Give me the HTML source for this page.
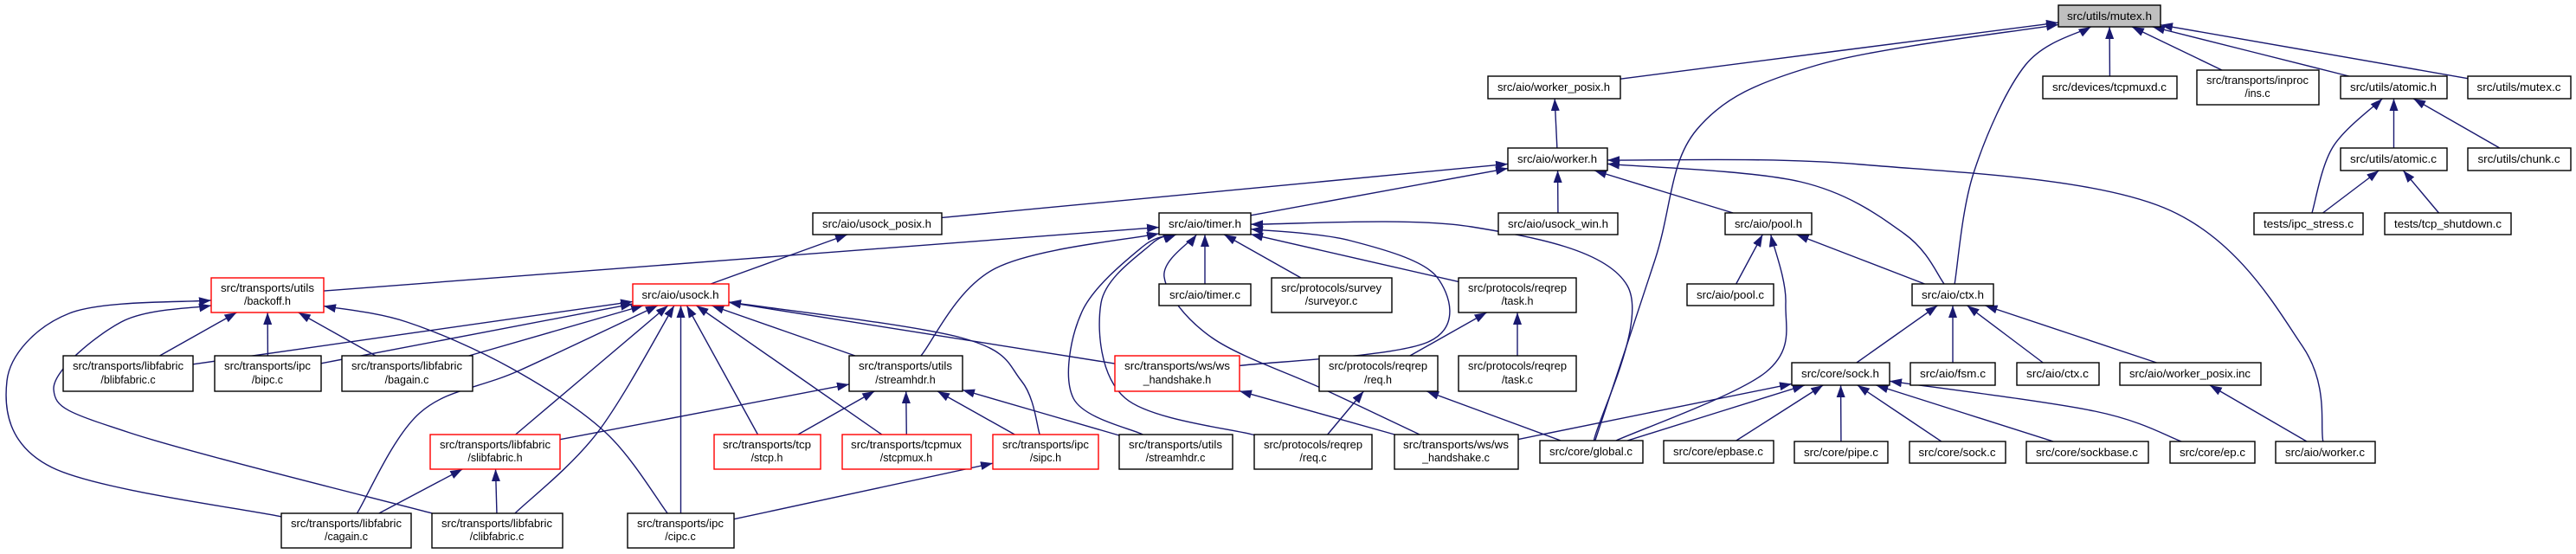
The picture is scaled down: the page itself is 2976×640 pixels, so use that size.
<!DOCTYPE html>
<html><head><meta charset="utf-8"><style>
html,body{margin:0;padding:0;background:#fff;}
svg{display:block;}
text{font-family:"Liberation Sans",sans-serif;font-size:12.5px;fill:#000;}
rect{stroke-width:1.4;}
</style></head><body>
<svg id="g" width="2976" height="640" viewBox="0 0 2976 640" xmlns="http://www.w3.org/2000/svg">
<defs><marker id="ah" markerUnits="userSpaceOnUse" markerWidth="16" markerHeight="12" refX="14" refY="5" orient="auto"><path d="M0,0 L14,5 L0,10 z" fill="#191970"/></marker></defs>
<g id="edges" fill="none" stroke="#191970" stroke-width="1.4"></g>
<g id="nodes">
<rect id="mutex" x="2378" y="6" width="118" height="25" fill="#bfbfbf" stroke="#000"/><text x="2437" y="23" text-anchor="middle" textLength="98" lengthAdjust="spacingAndGlyphs">src/utils/mutex.h</text>
<rect id="tcpmuxd" x="2360" y="88" width="155" height="26" fill="#fff" stroke="#000"/><text x="2437" y="105" text-anchor="middle" textLength="132" lengthAdjust="spacingAndGlyphs">src/devices/tcpmuxd.c</text>
<rect id="ins" x="2538" y="81" width="141" height="40" fill="#fff" stroke="#000"/><text x="2608" y="97" text-anchor="middle" textLength="118" lengthAdjust="spacingAndGlyphs">src/transports/inproc</text><text x="2608" y="112" text-anchor="middle">/ins.c</text>
<rect id="atomich" x="2704" y="88" width="123" height="26" fill="#fff" stroke="#000"/><text x="2765" y="105" text-anchor="middle" textLength="100" lengthAdjust="spacingAndGlyphs">src/utils/atomic.h</text>
<rect id="mutexc" x="2851" y="88" width="119" height="26" fill="#fff" stroke="#000"/><text x="2910" y="105" text-anchor="middle" textLength="97" lengthAdjust="spacingAndGlyphs">src/utils/mutex.c</text>
<rect id="atomicc" x="2704" y="171" width="123" height="26" fill="#fff" stroke="#000"/><text x="2765" y="188" text-anchor="middle" textLength="100" lengthAdjust="spacingAndGlyphs">src/utils/atomic.c</text>
<rect id="chunk" x="2851" y="171" width="119" height="26" fill="#fff" stroke="#000"/><text x="2910" y="188" text-anchor="middle" textLength="95" lengthAdjust="spacingAndGlyphs">src/utils/chunk.c</text>
<rect id="ipcstress" x="2604" y="246" width="126" height="25" fill="#fff" stroke="#000"/><text x="2667" y="263" text-anchor="middle" textLength="104" lengthAdjust="spacingAndGlyphs">tests/ipc_stress.c</text>
<rect id="tcpshut" x="2755" y="246" width="146" height="25" fill="#fff" stroke="#000"/><text x="2828" y="263" text-anchor="middle" textLength="124" lengthAdjust="spacingAndGlyphs">tests/tcp_shutdown.c</text>
<rect id="poolh" x="1993" y="246" width="100" height="25" fill="#fff" stroke="#000"/><text x="2043" y="263" text-anchor="middle" textLength="78" lengthAdjust="spacingAndGlyphs">src/aio/pool.h</text>
<rect id="wposixh" x="1719" y="88" width="153" height="26" fill="#fff" stroke="#000"/><text x="1795" y="105" text-anchor="middle" textLength="130" lengthAdjust="spacingAndGlyphs">src/aio/worker_posix.h</text>
<rect id="workerh" x="1742" y="171" width="115" height="26" fill="#fff" stroke="#000"/><text x="1799" y="188" text-anchor="middle" textLength="92" lengthAdjust="spacingAndGlyphs">src/aio/worker.h</text>
<rect id="timerh" x="1339" y="246" width="106" height="25" fill="#fff" stroke="#000"/><text x="1392" y="263" text-anchor="middle" textLength="84" lengthAdjust="spacingAndGlyphs">src/aio/timer.h</text>
<rect id="usockwin" x="1731" y="246" width="138" height="25" fill="#fff" stroke="#000"/><text x="1800" y="263" text-anchor="middle" textLength="116" lengthAdjust="spacingAndGlyphs">src/aio/usock_win.h</text>
<rect id="usockposix" x="939" y="246" width="149" height="25" fill="#fff" stroke="#000"/><text x="1013" y="263" text-anchor="middle" textLength="126" lengthAdjust="spacingAndGlyphs">src/aio/usock_posix.h</text>
<rect id="backoff" x="244" y="321" width="130" height="40" fill="#fff" stroke="#f00"/><text x="309" y="337" text-anchor="middle" textLength="108" lengthAdjust="spacingAndGlyphs">src/transports/utils</text><text x="309" y="352" text-anchor="middle">/backoff.h</text>
<rect id="usockh" x="731" y="328" width="111" height="25" fill="#fff" stroke="#f00"/><text x="786" y="345" text-anchor="middle" textLength="89" lengthAdjust="spacingAndGlyphs">src/aio/usock.h</text>
<rect id="blib" x="73" y="411" width="150" height="41" fill="#fff" stroke="#000"/><text x="148" y="427" text-anchor="middle" textLength="128" lengthAdjust="spacingAndGlyphs">src/transports/libfabric</text><text x="148" y="443" text-anchor="middle">/blibfabric.c</text>
<rect id="bipc" x="248" y="411" width="123" height="41" fill="#fff" stroke="#000"/><text x="309" y="427" text-anchor="middle" textLength="100" lengthAdjust="spacingAndGlyphs">src/transports/ipc</text><text x="309" y="443" text-anchor="middle">/bipc.c</text>
<rect id="bagain" x="395" y="411" width="151" height="41" fill="#fff" stroke="#000"/><text x="470" y="427" text-anchor="middle" textLength="128" lengthAdjust="spacingAndGlyphs">src/transports/libfabric</text><text x="470" y="443" text-anchor="middle">/bagain.c</text>
<rect id="slib" x="497" y="502" width="150" height="40" fill="#fff" stroke="#f00"/><text x="572" y="518" text-anchor="middle" textLength="128" lengthAdjust="spacingAndGlyphs">src/transports/libfabric</text><text x="572" y="533" text-anchor="middle">/slibfabric.h</text>
<rect id="stcp" x="825" y="502" width="123" height="40" fill="#fff" stroke="#f00"/><text x="886" y="518" text-anchor="middle" textLength="102" lengthAdjust="spacingAndGlyphs">src/transports/tcp</text><text x="886" y="533" text-anchor="middle">/stcp.h</text>
<rect id="stcpmux" x="973" y="502" width="149" height="40" fill="#fff" stroke="#f00"/><text x="1047" y="518" text-anchor="middle" textLength="128" lengthAdjust="spacingAndGlyphs">src/transports/tcpmux</text><text x="1047" y="533" text-anchor="middle">/stcpmux.h</text>
<rect id="cagain" x="325" y="593" width="150" height="40" fill="#fff" stroke="#000"/><text x="400" y="609" text-anchor="middle" textLength="128" lengthAdjust="spacingAndGlyphs">src/transports/libfabric</text><text x="400" y="624" text-anchor="middle">/cagain.c</text>
<rect id="clib" x="499" y="593" width="151" height="40" fill="#fff" stroke="#000"/><text x="574" y="609" text-anchor="middle" textLength="128" lengthAdjust="spacingAndGlyphs">src/transports/libfabric</text><text x="574" y="624" text-anchor="middle">/clibfabric.c</text>
<rect id="cipc" x="725" y="593" width="123" height="40" fill="#fff" stroke="#000"/><text x="786" y="609" text-anchor="middle" textLength="100" lengthAdjust="spacingAndGlyphs">src/transports/ipc</text><text x="786" y="624" text-anchor="middle">/cipc.c</text>
<rect id="timerc" x="1339" y="328" width="106" height="25" fill="#fff" stroke="#000"/><text x="1392" y="345" text-anchor="middle" textLength="82" lengthAdjust="spacingAndGlyphs">src/aio/timer.c</text>
<rect id="surveyor" x="1469" y="321" width="139" height="40" fill="#fff" stroke="#000"/><text x="1538" y="337" text-anchor="middle" textLength="116" lengthAdjust="spacingAndGlyphs">src/protocols/survey</text><text x="1538" y="352" text-anchor="middle">/surveyor.c</text>
<rect id="taskh" x="1685" y="321" width="136" height="40" fill="#fff" stroke="#000"/><text x="1753" y="337" text-anchor="middle" textLength="114" lengthAdjust="spacingAndGlyphs">src/protocols/reqrep</text><text x="1753" y="352" text-anchor="middle">/task.h</text>
<rect id="poolc" x="1949" y="328" width="100" height="25" fill="#fff" stroke="#000"/><text x="1999" y="345" text-anchor="middle" textLength="78" lengthAdjust="spacingAndGlyphs">src/aio/pool.c</text>
<rect id="streamhdrh" x="981" y="411" width="131" height="41" fill="#fff" stroke="#000"/><text x="1046" y="427" text-anchor="middle" textLength="108" lengthAdjust="spacingAndGlyphs">src/transports/utils</text><text x="1046" y="443" text-anchor="middle">/streamhdr.h</text>
<rect id="wshsh" x="1288" y="411" width="144" height="41" fill="#fff" stroke="#f00"/><text x="1360" y="427" text-anchor="middle" textLength="122" lengthAdjust="spacingAndGlyphs">src/transports/ws/ws</text><text x="1360" y="443" text-anchor="middle">_handshake.h</text>
<rect id="reqh" x="1524" y="411" width="137" height="41" fill="#fff" stroke="#000"/><text x="1592" y="427" text-anchor="middle" textLength="114" lengthAdjust="spacingAndGlyphs">src/protocols/reqrep</text><text x="1592" y="443" text-anchor="middle">/req.h</text>
<rect id="taskc" x="1685" y="411" width="136" height="41" fill="#fff" stroke="#000"/><text x="1753" y="427" text-anchor="middle" textLength="114" lengthAdjust="spacingAndGlyphs">src/protocols/reqrep</text><text x="1753" y="443" text-anchor="middle">/task.c</text>
<rect id="sipc" x="1147" y="502" width="122" height="40" fill="#fff" stroke="#f00"/><text x="1208" y="518" text-anchor="middle" textLength="100" lengthAdjust="spacingAndGlyphs">src/transports/ipc</text><text x="1208" y="533" text-anchor="middle">/sipc.h</text>
<rect id="streamhdrc" x="1293" y="502" width="131" height="40" fill="#fff" stroke="#000"/><text x="1358" y="518" text-anchor="middle" textLength="108" lengthAdjust="spacingAndGlyphs">src/transports/utils</text><text x="1358" y="533" text-anchor="middle">/streamhdr.c</text>
<rect id="reqc" x="1449" y="502" width="136" height="40" fill="#fff" stroke="#000"/><text x="1517" y="518" text-anchor="middle" textLength="114" lengthAdjust="spacingAndGlyphs">src/protocols/reqrep</text><text x="1517" y="533" text-anchor="middle">/req.c</text>
<rect id="wshsc" x="1611" y="502" width="143" height="40" fill="#fff" stroke="#000"/><text x="1682" y="518" text-anchor="middle" textLength="122" lengthAdjust="spacingAndGlyphs">src/transports/ws/ws</text><text x="1682" y="533" text-anchor="middle">_handshake.c</text>
<rect id="global" x="1779" y="509" width="119" height="26" fill="#fff" stroke="#000"/><text x="1838" y="526" text-anchor="middle" textLength="96" lengthAdjust="spacingAndGlyphs">src/core/global.c</text>
<rect id="epbase" x="1922" y="509" width="127" height="26" fill="#fff" stroke="#000"/><text x="1985" y="526" text-anchor="middle" textLength="104" lengthAdjust="spacingAndGlyphs">src/core/epbase.c</text>
<rect id="ctxh" x="2209" y="328" width="94" height="25" fill="#fff" stroke="#000"/><text x="2256" y="345" text-anchor="middle" textLength="72" lengthAdjust="spacingAndGlyphs">src/aio/ctx.h</text>
<rect id="sockh" x="2070" y="419" width="113" height="26" fill="#fff" stroke="#000"/><text x="2126" y="436" text-anchor="middle" textLength="90" lengthAdjust="spacingAndGlyphs">src/core/sock.h</text>
<rect id="fsm" x="2207" y="419" width="98" height="26" fill="#fff" stroke="#000"/><text x="2256" y="436" text-anchor="middle" textLength="76" lengthAdjust="spacingAndGlyphs">src/aio/fsm.c</text>
<rect id="ctxc" x="2330" y="419" width="95" height="26" fill="#fff" stroke="#000"/><text x="2377" y="436" text-anchor="middle" textLength="72" lengthAdjust="spacingAndGlyphs">src/aio/ctx.c</text>
<rect id="wposixinc" x="2449" y="419" width="163" height="26" fill="#fff" stroke="#000"/><text x="2530" y="436" text-anchor="middle" textLength="140" lengthAdjust="spacingAndGlyphs">src/aio/worker_posix.inc</text>
<rect id="pipe" x="2073" y="510" width="108" height="25" fill="#fff" stroke="#000"/><text x="2127" y="527" text-anchor="middle" textLength="86" lengthAdjust="spacingAndGlyphs">src/core/pipe.c</text>
<rect id="sockc" x="2206" y="510" width="111" height="25" fill="#fff" stroke="#000"/><text x="2261" y="527" text-anchor="middle" textLength="89" lengthAdjust="spacingAndGlyphs">src/core/sock.c</text>
<rect id="sockbase" x="2341" y="510" width="141" height="25" fill="#fff" stroke="#000"/><text x="2411" y="527" text-anchor="middle" textLength="118" lengthAdjust="spacingAndGlyphs">src/core/sockbase.c</text>
<rect id="ep" x="2507" y="510" width="98" height="25" fill="#fff" stroke="#000"/><text x="2556" y="527" text-anchor="middle" textLength="76" lengthAdjust="spacingAndGlyphs">src/core/ep.c</text>
<rect id="workerc" x="2629" y="510" width="115" height="25" fill="#fff" stroke="#000"/><text x="2686" y="527" text-anchor="middle" textLength="92" lengthAdjust="spacingAndGlyphs">src/aio/worker.c</text>
</g>
</svg>
<script>
var E=[
["wposixh","mutex"],["global","mutex",[[1912,300],[1960,150],[2100,75]]],["ctxh","mutex",[[2280,200],[2340,75]]],["tcpmuxd","mutex"],["ins","mutex"],["atomich","mutex"],["mutexc","mutex"],
["workerh","wposixh"],
["usockposix","workerh"],["timerh","workerh"],["usockwin","workerh"],["poolh","workerh"],["ctxh","workerh",[[2200,270],[2080,210]]],["workerc","workerh",[[2660,400],[2500,240],[2150,190]]],
["ipcstress","atomich",[[2695,170]]],["atomicc","atomich"],["chunk","atomich"],["ipcstress","atomicc"],["tcpshut","atomicc"],
["usockh","usockposix"],
["backoff","timerh"],["streamhdrh","timerh",[[1150,310]]],["streamhdrc","timerh",[[1240,460],[1250,360],[1320,285]]],["reqc","timerh",[[1300,460],[1272,350],[1330,282]]],["timerc","timerh"],["surveyor","timerh"],["taskh","timerh"],["wshsh","timerh",[[1650,395],[1660,320],[1560,278]]],["wshsc","timerh",[[1530,450],[1400,390],[1345,320]]],["global","timerh",[[1880,330],[1700,262]]],
["poolc","poolh"],["global","poolh",[[2040,430],[2063,350]]],["ctxh","poolh"],
["sockh","ctxh"],["fsm","ctxh"],["ctxc","ctxh"],["wposixinc","ctxh"],["workerc","wposixinc"],
["global","sockh"],["wshsc","sockh"],["epbase","sockh"],["pipe","sockh"],["sockc","sockh"],["sockbase","sockh"],["ep","sockh",[[2420,475]]],
["blib","backoff"],["bipc","backoff"],["bagain","backoff"],["cagain","backoff",[[60,540],[8,440],[80,362]]],["clib","backoff",[[150,500],[62,450],[140,372]]],["cipc","backoff",[[700,500],[590,425],[470,372]]],
["blib","usockh"],["bipc","usockh"],["bagain","usockh"],["cagain","usockh",[[485,477],[600,428]]],["slib","usockh"],["clib","usockh",[[690,500]]],["cipc","usockh"],["stcp","usockh"],["stcpmux","usockh"],["streamhdrh","usockh"],["sipc","usockh",[[1180,440],[1110,390]]],["wshsh","usockh"],
["slib","streamhdrh"],["stcp","streamhdrh"],["stcpmux","streamhdrh"],["sipc","streamhdrh"],["streamhdrc","streamhdrh"],
["cagain","slib"],["clib","slib"],["cipc","sipc"],["wshsc","wshsh"],["reqh","taskh"],["taskc","taskh"],["reqc","reqh"],["global","reqh"]
];
function box(id){var r=document.getElementById(id);var x=+r.getAttribute("x"),y=+r.getAttribute("y"),w=+r.getAttribute("width"),h=+r.getAttribute("height");return {cx:x+w/2,cy:y+h/2,hw:w/2,hh:h/2};}
function clip(b,dx,dy){var t=Math.min(dx?b.hw/Math.abs(dx):1e9,dy?b.hh/Math.abs(dy):1e9);return [b.cx+dx*t,b.cy+dy*t];}
var g=document.getElementById("edges"),ns="http://www.w3.org/2000/svg";
E.forEach(function(e){var a=box(e[0]),b=box(e[1]);var w=e[2]||[];
var f=w.length?w[0]:[b.cx,b.cy],l=w.length?w[w.length-1]:[a.cx,a.cy];
var p=clip(a,f[0]-a.cx,f[1]-a.cy),q=clip(b,l[0]-b.cx,l[1]-b.cy);
var pts=[p].concat(w).concat([q]);var d="M"+p[0]+","+p[1];
for(var i=0;i<pts.length-1;i++){var p0=pts[i-1]||pts[i],p1=pts[i],p2=pts[i+1],p3=pts[i+2]||p2;
var c1=[p1[0]+(p2[0]-p0[0])/6,p1[1]+(p2[1]-p0[1])/6],c2=[p2[0]-(p3[0]-p1[0])/6,p2[1]-(p3[1]-p1[1])/6];
d+=" C"+c1[0]+","+c1[1]+" "+c2[0]+","+c2[1]+" "+p2[0]+","+p2[1];}
var el=document.createElementNS(ns,"path");el.setAttribute("d",d);el.setAttribute("marker-end","url(#ah)");g.appendChild(el);});
</script>
</body></html>
